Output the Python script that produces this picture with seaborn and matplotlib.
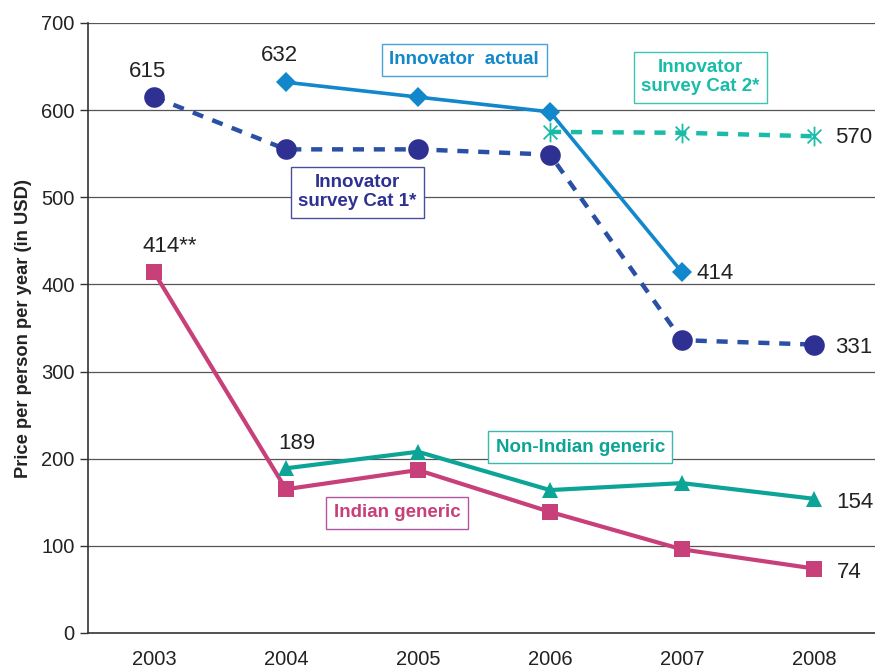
import pandas as pd
import seaborn as sns
import matplotlib.pyplot as plt
from matplotlib.path import Path

# values
years = [2003, 2004, 2005, 2006, 2007, 2008]
innov_actual = [None, 632, 615, 598, 414, None]
innov_cat1 = [615, 555, 555, 549, 336, 331]
innov_cat2 = [None, None, None, 575, 574, 570]
indian = [414, 165, 187, 139, 96, 74]
non_indian = [None, 189, 208, 164, 172, 154]

df = pd.DataFrame({"year": years, "actual": innov_actual, "cat1": innov_cat1,
                   "cat2": innov_cat2, "indian": indian, "nonindian": non_indian})

sns.set_style("white")
plt.rcParams['font.family'] = ['Liberation Sans', 'DejaVu Sans']

fig = plt.figure(figsize=(8.75, 6.71), dpi=100)
ax = fig.add_axes([88/875, 38/671, 792/875, 610/671])

for v in range(100, 800, 100):
    ax.axhline(v, color="#555555", lw=0.9, zorder=0)

# asterisk marker: vertical bar plus a steep X
star = Path([(0, -1), (0, 1), (-0.7, -0.7), (0.7, 0.7), (-0.7, 0.7), (0.7, -0.7)],
            [Path.MOVETO, Path.LINETO, Path.MOVETO, Path.LINETO, Path.MOVETO, Path.LINETO])

# Indian generic
sns.lineplot(data=df, x="year", y="indian", ax=ax, color="#c8407a", lw=3,
             marker="s", markersize=11, markeredgewidth=0)
# Non-Indian generic
sns.lineplot(data=df.dropna(subset=["nonindian"]), x="year", y="nonindian", ax=ax,
             color="#0ca496", lw=3, marker="^", markersize=12, markeredgewidth=0)
# Innovator survey Cat 1 (dashed line, navy dots)
sns.lineplot(data=df, x="year", y="cat1", ax=ax, color="#2a50a6", lw=3.2,
             linestyle=(0, (2.5, 2.2)))
sns.scatterplot(data=df, x="year", y="cat1", ax=ax, color="#2e3192", s=220,
                linewidth=0, zorder=4)
# Innovator survey Cat 2
sns.lineplot(data=df.dropna(subset=["cat2"]), x="year", y="cat2", ax=ax,
             color="#19bca9", lw=3.2, linestyle=(0, (2.5, 2.2)))
sns.scatterplot(data=df.dropna(subset=["cat2"]), x="year", y="cat2", ax=ax,
                marker=star, s=200, color="#19bca9", edgecolor="#19bca9",
                linewidth=1.3, zorder=4)
# Innovator actual
sns.lineplot(data=df.dropna(subset=["actual"]), x="year", y="actual", ax=ax,
             color="#1287cc", lw=2.6, marker="D", markersize=10, markeredgewidth=0,
             zorder=5)

ax.set_xlim(2002.5, 2008.5)
ax.set_ylim(0, 700)
ax.set_yticks(range(0, 800, 100))
ax.set_xticks(years)
ax.set_xticks([y + 0.5 for y in [2002] + years[:-1]], minor=True)
ax.tick_params(axis="x", which="major", length=0, pad=12, labelsize=14.5, colors="#222222")
ax.tick_params(axis="x", which="minor", length=6, width=1, color="#333333", direction="out")
ax.tick_params(axis="y", length=6, width=1, color="#333333", direction="out",
               labelsize=14.5, labelcolor="#222222", left=True)
ax.set_xlabel("")
ax.set_ylabel("Price per person per year (in USD)", fontsize=13.2, fontweight="bold",
              color="#222222", labelpad=7)
for s in ["top", "right"]:
    ax.spines[s].set_visible(False)
for s in ["left", "bottom"]:
    ax.spines[s].set_color("#333333")
    ax.spines[s].set_linewidth(1.2)

# value labels
num = dict(fontsize=16, color="#222222")
ax.text(2002.95, 644, "615", ha="center", va="center", **num)
ax.text(2003.95, 663, "632", ha="center", va="center", **num)
ax.text(2003.12, 443, "414**", ha="center", va="center", **num)
ax.text(2004.08, 218, "189", ha="center", va="center", **num)
ax.text(2008.16, 569, "570", ha="left", va="center", **num)
ax.text(2007.11, 413, "414", ha="left", va="center", **num)
ax.text(2008.16, 328, "331", ha="left", va="center", **num)
ax.text(2008.17, 150, "154", ha="left", va="center", **num)
ax.text(2008.17, 69, "74", ha="left", va="center", **num)

# series boxes
def box(x, y, s, col, edge):
    ax.text(x, y, s, ha="center", va="center", fontsize=13.5, fontweight="bold",
            color=col, linespacing=1.15,
            bbox=dict(boxstyle="square,pad=0.4", fc="white", ec=edge, lw=1))

box(2005.35, 658, "Innovator  actual", "#1287cc", "#4aa3d8")
box(2004.54, 506, "Innovator\nsurvey Cat 1*", "#2e3192", "#4a4ea0")
box(2007.14, 638, "Innovator\nsurvey Cat 2*", "#19bca9", "#3cc4b4")
box(2006.23, 213, "Non-Indian generic", "#0ca496", "#3cb8ac")
box(2004.84, 138, "Indian generic", "#c8407a", "#b055a0")

fig.savefig("out.png", dpi=100)
